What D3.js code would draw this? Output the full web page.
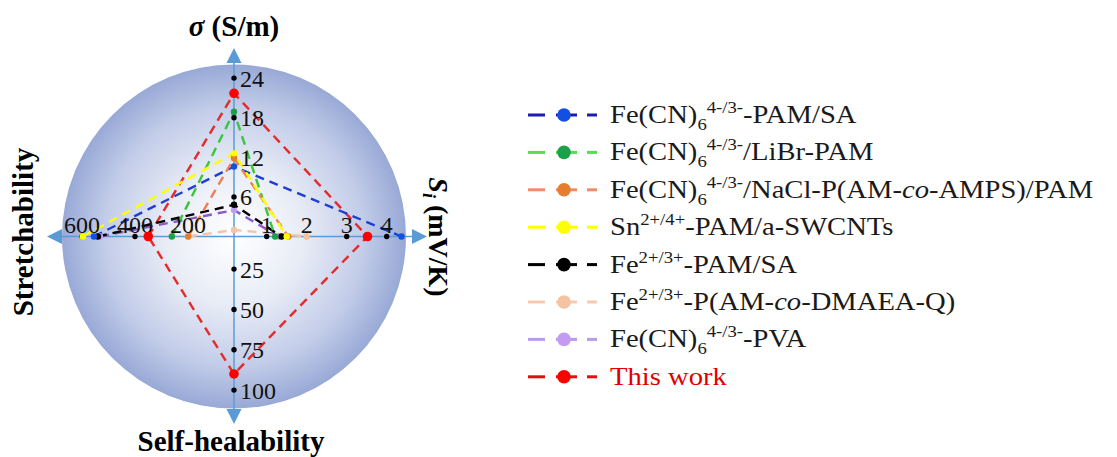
<!DOCTYPE html>
<html><head><meta charset="utf-8">
<script src="https://cdn.jsdelivr.net/npm/d3@7"></script>
<style>body{margin:0;background:#fff}svg text{font-family:"Liberation Serif","Times New Roman",serif}</style>
</head><body><svg id="c" width="1117" height="457"></svg>
<script>
// ---------- data ----------
const seriesNames = ["Fe(CN)6-PAM/SA","Fe(CN)6/LiBr-PAM","Fe(CN)6/NaCl-P(AM-co-AMPS)/PAM","Sn-PAM/a-SWCNTs","Fe-PAM/SA","Fe-P(AM-co-DMAEA-Q)","Fe(CN)6-PVA","This work"];
const sigma   = [10.6, 18.9, 11.85, 12.6, 4.8, 1.0, 4.0, 21.7];   // S/m (top axis)
const seebeck = [4.37, 1.21, 1.54, 1.50, 1.37, 2.0, 1.30, 3.52];  // mV/K (right axis)
const stretch = [555, 261, 199, 597, 540, 200, 532, 350];         // % (left axis)
const healing = [null, null, null, null, null, null, null, 90];   // % (bottom axis)
const sigmaTicks = [6, 12, 18, 24];
const seebeckTicks = [1, 2, 3, 4];
const stretchTicks = [200, 400, 600];
const healTicks = [25, 50, 75, 100];
const legendLabels = [
  [["Fe(CN)"],["6","sub"],["4-/3-","sup"],["-PAM/SA"]],
  [["Fe(CN)"],["6","sub"],["4-/3-","sup"],["/LiBr-PAM"]],
  [["Fe(CN)"],["6","sub"],["4-/3-","sup"],["/NaCl-P(AM-"],["co","i"],["-AMPS)/PAM"]],
  [["Sn"],["2+/4+","sup"],["-PAM/a-SWCNTs"]],
  [["Fe"],["2+/3+","sup"],["-PAM/SA"]],
  [["Fe"],["2+/3+","sup"],["-P(AM-"],["co","i"],["-DMAEA-Q)"]],
  [["Fe(CN)"],["6","sub"],["4-/3-","sup"],["-PVA"]],
  [["This work"]]
];
const lineColors = ["#1f3fd0","#3cc43c","#ee8050","#ffff00","#000000","#f3c3a5","#8a5cc8","#e52a2a"];
const legendLineColors = ["#1c1cb0","#55dd55","#f08a6a","#ffff00","#000000","#f5cbb0","#b99ce8","#e01010"];
const dotColors = ["#1150e0","#1ca04a","#e67e30","#ffff00","#000000","#f5c2a2","#c39bf0","#ff0000"];

// ---------- geometry ----------
const svg = d3.select("#c");
const cx = 234, cy = 236.5, R = 172;
const rSigma = d3.scaleLinear().domain([0, 24]).range([0, 158.4]);
const rSeebeck = d3.scaleLinear().domain([1, 4]).range([32.7, 152.7]);
const rHeal = d3.scaleLinear().domain([25, 100]).range([32.6, 153.6]);
const rStretch = d3.scaleLinear().domain([200, 600]).range([46, 152]);

const defs = svg.append("defs");
const g = defs.append("radialGradient").attr("id","bg").attr("cx","50%").attr("cy","50%").attr("r","50%");
g.append("stop").attr("offset","0%").attr("stop-color","#ffffff");
g.append("stop").attr("offset","40%").attr("stop-color","#e8ecf6");
g.append("stop").attr("offset","75%").attr("stop-color","#c3cde9");
g.append("stop").attr("offset","100%").attr("stop-color","#98a9d6");

svg.append("circle").attr("cx", cx).attr("cy", cy).attr("r", R).attr("fill", "url(#bg)");

// axes
const axColor = "#5b9bd5";
const ax = svg.append("g");
ax.append("line").attr("x1", 60).attr("x2", 414).attr("y1", cy).attr("y2", cy).attr("stroke", axColor).attr("stroke-width", 1.5);
ax.append("line").attr("y1", 60).attr("y2", 412).attr("x1", cx).attr("x2", cx).attr("stroke", axColor).attr("stroke-width", 1.5);
const arrows = [
  [[cx,48],[cx-7.5,63],[cx+7.5,63]],
  [[cx,424],[cx-7.5,409],[cx+7.5,409]],
  [[47,cy],[62,cy-7.5],[62,cy+7.5]],
  [[427,cy],[412,cy-7.5],[412,cy+7.5]]
];
ax.selectAll("polygon").data(arrows).join("polygon").attr("points", d => d.join(" ")).attr("fill", axColor);

// series paths
function pts(i) {
  const p = [];
  p.push([cx - rStretch(stretch[i]), cy]);
  p.push([cx, cy - rSigma(sigma[i])]);
  p.push([cx + rSeebeck(seebeck[i]), cy]);
  if (healing[i] != null) p.push([cx, cy + rHeal(healing[i])]);
  return p;
}
const order = [7, 5, 6, 4, 0, 1, 2, 3];
const line = d3.line();
svg.append("g").selectAll("path").data(order).join("path")
  .attr("d", i => { const p = pts(i); return line(p) + (healing[i] != null ? "Z" : ""); })
  .attr("fill", "none").attr("stroke", i => lineColors[i]).attr("stroke-width", 2.4)
  .attr("stroke-dasharray", "9,6");

// tick dots & labels
const tickG = svg.append("g");
const tickPts = [];
sigmaTicks.forEach(v => tickPts.push({x: cx, y: cy - rSigma(v), t: v, pos: "v"}));
healTicks.forEach(v => tickPts.push({x: cx, y: cy + rHeal(v), t: v, pos: "v"}));
seebeckTicks.forEach(v => tickPts.push({x: cx + rSeebeck(v), y: cy, t: v, pos: "h"}));
stretchTicks.forEach(v => tickPts.push({x: cx - rStretch(v), y: cy, t: v, pos: "h"}));
tickG.selectAll("circle").data(tickPts).join("circle").attr("cx", d => d.x).attr("cy", d => d.y).attr("r", 2.7).attr("fill", "#000");
tickG.selectAll("text").data(tickPts).join("text")
  .attr("x", d => d.pos === "v" ? d.x + 6 : d.x)
  .attr("y", d => d.pos === "v" ? d.y : d.y - 4)
  .attr("dy", d => d.pos === "v" ? "0.35em" : 0)
  .attr("text-anchor", d => d.pos === "v" ? "start" : "middle")
  .attr("font-size", 24).attr("fill", "#111").text(d => d.t);

// series dots
svg.append("g").selectAll("g").data(order).join("g").each(function(i) {
  d3.select(this).selectAll("circle").data(pts(i)).join("circle")
    .attr("cx", d => d[0]).attr("cy", d => d[1]).attr("r", i === 7 ? 4.8 : 3.2)
    .attr("fill", dotColors[i]);
});

// axis titles
const t1 = svg.append("text").attr("x", cx).attr("y", 36).attr("text-anchor", "middle").attr("font-size", 29).attr("font-weight", "bold");
t1.append("tspan").attr("font-style", "italic").text("σ");
t1.append("tspan").text(" (S/m)");
svg.append("text").attr("x", 231).attr("y", 451).attr("text-anchor", "middle").attr("font-size", 29).attr("font-weight", "bold").text("Self-healability");
svg.append("text").attr("transform", "translate(33,232) rotate(-90)").attr("text-anchor", "middle").attr("font-size", 29).attr("font-weight", "bold").text("Stretchability");
const t4 = svg.append("text").attr("transform", "translate(429,237) rotate(90)").attr("text-anchor", "middle").attr("font-size", 28).attr("font-weight", "bold");
t4.append("tspan").attr("font-style", "italic").text("S");
t4.append("tspan").attr("font-style", "italic").attr("font-size", 18).attr("dy", 6).text("i");
t4.append("tspan").attr("dy", -6).text(" (mV/K)");

// legend
const lg = svg.append("g");
const y0 = 115, step = 37.4;
legendLabels.forEach((segs, i) => {
  const y = y0 + i * step;
  const row = lg.append("g");
  [[528, 545], [556, 577], [587, 597]].forEach(s => row.append("line").attr("x1", s[0]).attr("x2", s[1]).attr("y1", y).attr("y2", y).attr("stroke", legendLineColors[i]).attr("stroke-width", 3));
  row.append("circle").attr("cx", 564).attr("cy", y).attr("r", 6.8).attr("fill", dotColors[i]);
  const txt = row.append("text").attr("transform", `translate(610,${y + 8}) scale(1.1,1)`).attr("font-size", 26).attr("fill", i === 7 ? "#e00000" : "#1a1a1a");
  let cur = 0;
  segs.forEach(([s, st]) => {
    const target = st === "sup" ? -10 : st === "sub" ? 7 : 0;
    const ts = txt.append("tspan").attr("dy", target - cur).text(s);
    cur = target;
    if (st === "sup" || st === "sub") ts.attr("font-size", 17);
    if (st === "i") ts.attr("font-style", "italic");
  });
});
</script></body></html>
